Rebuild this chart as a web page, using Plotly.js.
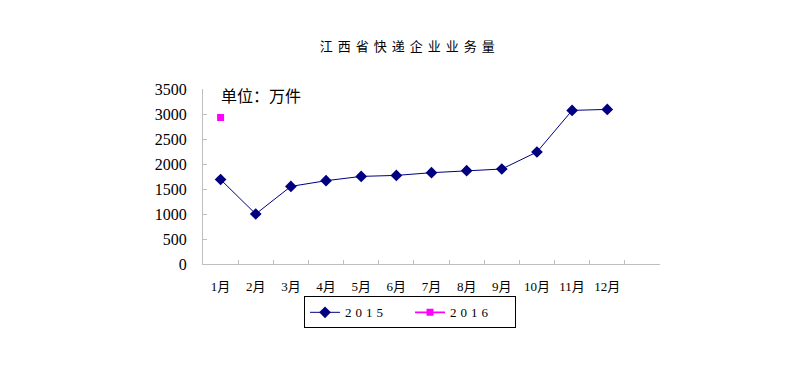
<!DOCTYPE html>
<html>
<head>
<meta charset="utf-8">
<script src="https://cdn.plot.ly/plotly-3.0.1.min.js"></script>
<style>html,body{margin:0;padding:0;background:#fff;}</style>
</head>
<body>
<div id="chart" style="width:808px;height:369px;"></div>
<script>
const months = ["1月","2月","3月","4月","5月","6月","7月","8月","9月","10月","11月","12月"];
const values2015 = [1690, 1000, 1552, 1666, 1752, 1772, 1826, 1866, 1900, 2240, 3072, 3092];
const months2016 = ["1月", "2月"];
const values2016 = [2930, null];
const yTicks = [0, 500, 1000, 1500, 2000, 2500, 3000, 3500];

const serif = "Liberation Serif, Times New Roman, Noto Sans CJK SC, serif";

const traces = [
  {
    x: months, y: values2015, name: "2015", type: "scatter", mode: "lines+markers",
    line: {color: "#000080", width: 1},
    marker: {symbol: "diamond", size: 9, color: "#000080"}
  },
  {
    x: months2016, y: values2016, name: "2016", type: "scatter", mode: "lines+markers",
    line: {color: "#FF00FF", width: 1.6},
    marker: {symbol: "square", size: 7, color: "#FF00FF"}
  }
];

const layout = {
  width: 808, height: 369,
  margin: {l: 203, r: 148, t: 89, b: 104.7, pad: 0},
  paper_bgcolor: "#fff", plot_bgcolor: "#fff",
  title: {
    text: "江西省快递企业业务量",
    font: {family: "Noto Sans CJK SC", size: 13, color: "#000"},
    x: 0.507, xanchor: "center", xref: "container",
    y: 0.875, yanchor: "middle", yref: "container"
  },
  xaxis: {
    type: "category",
    categoryorder: "array", categoryarray: months,
    range: [-0.5, 12.5],
    tickson: "boundaries",
    ticks: "inside", ticklen: 4, tickcolor: "#BFBFBF", tickwidth: 1,
    showline: true, linecolor: "#BFBFBF", linewidth: 1,
    showgrid: false, zeroline: false,
    tickfont: {family: serif, size: 13, color: "#000"},
    ticklabelstandoff: 10,
    fixedrange: true
  },
  yaxis: {
    range: [0, 3500],
    tickvals: yTicks,
    ticks: "inside", ticklen: 4, tickcolor: "#BFBFBF", tickwidth: 1,
    showline: true, linecolor: "#BFBFBF", linewidth: 1,
    showgrid: false, zeroline: false,
    tickfont: {family: serif, size: 16, color: "#000"},
    ticklabelstandoff: 12,
    fixedrange: true
  },
  showlegend: true,
  legend: {
    orientation: "h",
    x: 0.453, xanchor: "center",
    y: -0.185, yanchor: "top",
    bordercolor: "#000", borderwidth: 1, bgcolor: "#fff",
    font: {family: serif, size: 13, color: "#000"},
    itemwidth: 30,
    entrywidth: 60, entrywidthmode: "pixels",
    tracegroupgap: 0
  },
  annotations: [
    {
      text: "单位：万件", xref: "paper", yref: "paper",
      x: 0.035, y: 0.966, xanchor: "left", yanchor: "middle",
      showarrow: false,
      font: {family: "Noto Sans CJK SC", size: 16, color: "#000"}
    }
  ]
};

Plotly.newPlot("chart", traces, layout, {displayModeBar: false, staticPlot: true}).then(function(gd){
  const t = gd.querySelector(".gtitle");
  if (t) t.style.letterSpacing = "5px";
  gd.querySelectorAll(".legendtext").forEach(function(el){ el.style.letterSpacing = "4px"; });
  gd.querySelectorAll(".legend .traces .legendlines").forEach(function(g){
    const layers = g.parentNode;
    if (layers) layers.appendChild(g);
  });
});
</script>
</body>
</html>
